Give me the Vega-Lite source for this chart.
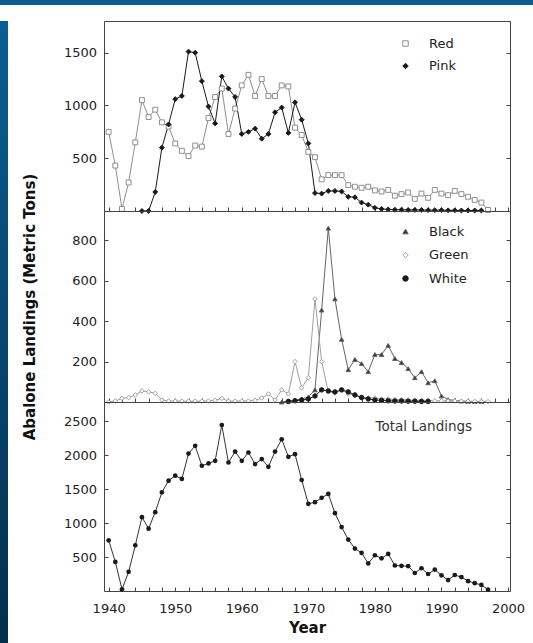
{
  "$schema": "https://vega.github.io/schema/vega-lite/v6.json",
  "padding": 0,
  "background": "white",
  "spacing": 15,
  "config": {
    "font": "DejaVu Sans",
    "view": {"stroke": "#444", "strokeWidth": 1},
    "axis": {
      "domain": false,
      "grid": false,
      "labelFont": "DejaVu Sans",
      "labelFontSize": 13,
      "labelColor": "#222",
      "labelFlush": false,
      "tickColor": "#444",
      "tickSize": -4,
      "titleFont": "DejaVu Sans",
      "titleFontSize": 15,
      "titleFontWeight": "bold",
      "titleColor": "#111"
    },
    "legend": {
      "labelFont": "DejaVu Sans",
      "labelFontSize": 13,
      "labelColor": "#222",
      "padding": 0,
      "rowPadding": 8.5,
      "labelOffset": 17,
      "symbolSize": 30,
      "symbolStrokeWidth": 1
    }
  },
  "datasets": {
    "topPanel": [
      {"year": 1940, "species": "Red", "tons": 750}, {"year": 1941, "species": "Red", "tons": 430},
      {"year": 1942, "species": "Red", "tons": 20}, {"year": 1943, "species": "Red", "tons": 270},
      {"year": 1944, "species": "Red", "tons": 650}, {"year": 1945, "species": "Red", "tons": 1050},
      {"year": 1946, "species": "Red", "tons": 890}, {"year": 1947, "species": "Red", "tons": 960},
      {"year": 1948, "species": "Red", "tons": 840}, {"year": 1949, "species": "Red", "tons": 800},
      {"year": 1950, "species": "Red", "tons": 640}, {"year": 1951, "species": "Red", "tons": 570},
      {"year": 1952, "species": "Red", "tons": 520}, {"year": 1953, "species": "Red", "tons": 620},
      {"year": 1954, "species": "Red", "tons": 610}, {"year": 1955, "species": "Red", "tons": 880},
      {"year": 1956, "species": "Red", "tons": 1080}, {"year": 1957, "species": "Red", "tons": 1160},
      {"year": 1958, "species": "Red", "tons": 730}, {"year": 1959, "species": "Red", "tons": 970},
      {"year": 1960, "species": "Red", "tons": 1190}, {"year": 1961, "species": "Red", "tons": 1290},
      {"year": 1962, "species": "Red", "tons": 1090}, {"year": 1963, "species": "Red", "tons": 1250},
      {"year": 1964, "species": "Red", "tons": 1090}, {"year": 1965, "species": "Red", "tons": 1090},
      {"year": 1966, "species": "Red", "tons": 1190}, {"year": 1967, "species": "Red", "tons": 1180},
      {"year": 1968, "species": "Red", "tons": 790}, {"year": 1969, "species": "Red", "tons": 720},
      {"year": 1970, "species": "Red", "tons": 560}, {"year": 1971, "species": "Red", "tons": 510},
      {"year": 1972, "species": "Red", "tons": 300}, {"year": 1973, "species": "Red", "tons": 340},
      {"year": 1974, "species": "Red", "tons": 340}, {"year": 1975, "species": "Red", "tons": 340},
      {"year": 1976, "species": "Red", "tons": 245}, {"year": 1977, "species": "Red", "tons": 230},
      {"year": 1978, "species": "Red", "tons": 220}, {"year": 1979, "species": "Red", "tons": 230},
      {"year": 1980, "species": "Red", "tons": 195}, {"year": 1981, "species": "Red", "tons": 185},
      {"year": 1982, "species": "Red", "tons": 200}, {"year": 1983, "species": "Red", "tons": 145},
      {"year": 1984, "species": "Red", "tons": 160}, {"year": 1985, "species": "Red", "tons": 175},
      {"year": 1986, "species": "Red", "tons": 115}, {"year": 1987, "species": "Red", "tons": 165},
      {"year": 1988, "species": "Red", "tons": 125}, {"year": 1989, "species": "Red", "tons": 200},
      {"year": 1990, "species": "Red", "tons": 165}, {"year": 1991, "species": "Red", "tons": 150},
      {"year": 1992, "species": "Red", "tons": 190}, {"year": 1993, "species": "Red", "tons": 160},
      {"year": 1994, "species": "Red", "tons": 135}, {"year": 1995, "species": "Red", "tons": 105},
      {"year": 1996, "species": "Red", "tons": 80}, {"year": 1997, "species": "Red", "tons": 10},
      {"year": 1945, "species": "Pink", "tons": 0}, {"year": 1946, "species": "Pink", "tons": 0},
      {"year": 1947, "species": "Pink", "tons": 180}, {"year": 1948, "species": "Pink", "tons": 600},
      {"year": 1949, "species": "Pink", "tons": 820}, {"year": 1950, "species": "Pink", "tons": 1060},
      {"year": 1951, "species": "Pink", "tons": 1090}, {"year": 1952, "species": "Pink", "tons": 1510},
      {"year": 1953, "species": "Pink", "tons": 1500}, {"year": 1954, "species": "Pink", "tons": 1230},
      {"year": 1955, "species": "Pink", "tons": 990}, {"year": 1956, "species": "Pink", "tons": 830},
      {"year": 1957, "species": "Pink", "tons": 1275}, {"year": 1958, "species": "Pink", "tons": 1160},
      {"year": 1959, "species": "Pink", "tons": 1080}, {"year": 1960, "species": "Pink", "tons": 730},
      {"year": 1961, "species": "Pink", "tons": 750}, {"year": 1962, "species": "Pink", "tons": 780},
      {"year": 1963, "species": "Pink", "tons": 685}, {"year": 1964, "species": "Pink", "tons": 730},
      {"year": 1965, "species": "Pink", "tons": 935}, {"year": 1966, "species": "Pink", "tons": 980},
      {"year": 1967, "species": "Pink", "tons": 740}, {"year": 1968, "species": "Pink", "tons": 1030},
      {"year": 1969, "species": "Pink", "tons": 865}, {"year": 1970, "species": "Pink", "tons": 640},
      {"year": 1971, "species": "Pink", "tons": 170}, {"year": 1972, "species": "Pink", "tons": 165},
      {"year": 1973, "species": "Pink", "tons": 190}, {"year": 1974, "species": "Pink", "tons": 190},
      {"year": 1975, "species": "Pink", "tons": 185}, {"year": 1976, "species": "Pink", "tons": 135},
      {"year": 1977, "species": "Pink", "tons": 130}, {"year": 1978, "species": "Pink", "tons": 80},
      {"year": 1979, "species": "Pink", "tons": 60}, {"year": 1980, "species": "Pink", "tons": 30},
      {"year": 1981, "species": "Pink", "tons": 20}, {"year": 1982, "species": "Pink", "tons": 15},
      {"year": 1983, "species": "Pink", "tons": 12}, {"year": 1984, "species": "Pink", "tons": 12},
      {"year": 1985, "species": "Pink", "tons": 10}, {"year": 1986, "species": "Pink", "tons": 10},
      {"year": 1987, "species": "Pink", "tons": 10}, {"year": 1988, "species": "Pink", "tons": 8},
      {"year": 1989, "species": "Pink", "tons": 8}, {"year": 1990, "species": "Pink", "tons": 8},
      {"year": 1991, "species": "Pink", "tons": 6}, {"year": 1992, "species": "Pink", "tons": 6},
      {"year": 1993, "species": "Pink", "tons": 5}, {"year": 1994, "species": "Pink", "tons": 5},
      {"year": 1995, "species": "Pink", "tons": 5}, {"year": 1996, "species": "Pink", "tons": 5}
    ],
    "middlePanel": [
      {"year": 1966, "species": "Black", "tons": 0}, {"year": 1967, "species": "Black", "tons": 5},
      {"year": 1968, "species": "Black", "tons": 10}, {"year": 1969, "species": "Black", "tons": 15},
      {"year": 1970, "species": "Black", "tons": 25}, {"year": 1971, "species": "Black", "tons": 60},
      {"year": 1972, "species": "Black", "tons": 455}, {"year": 1973, "species": "Black", "tons": 860},
      {"year": 1974, "species": "Black", "tons": 510}, {"year": 1975, "species": "Black", "tons": 310},
      {"year": 1976, "species": "Black", "tons": 160}, {"year": 1977, "species": "Black", "tons": 210},
      {"year": 1978, "species": "Black", "tons": 190}, {"year": 1979, "species": "Black", "tons": 150},
      {"year": 1980, "species": "Black", "tons": 235}, {"year": 1981, "species": "Black", "tons": 235},
      {"year": 1982, "species": "Black", "tons": 280}, {"year": 1983, "species": "Black", "tons": 215},
      {"year": 1984, "species": "Black", "tons": 195}, {"year": 1985, "species": "Black", "tons": 165},
      {"year": 1986, "species": "Black", "tons": 120}, {"year": 1987, "species": "Black", "tons": 150},
      {"year": 1988, "species": "Black", "tons": 95}, {"year": 1989, "species": "Black", "tons": 105},
      {"year": 1990, "species": "Black", "tons": 30}, {"year": 1991, "species": "Black", "tons": 12},
      {"year": 1992, "species": "Black", "tons": 8}, {"year": 1993, "species": "Black", "tons": 5},
      {"year": 1994, "species": "Black", "tons": 3}, {"year": 1995, "species": "Black", "tons": 2},
      {"year": 1996, "species": "Black", "tons": 2},
      {"year": 1940, "species": "Green", "tons": 0}, {"year": 1941, "species": "Green", "tons": 5},
      {"year": 1942, "species": "Green", "tons": 18}, {"year": 1943, "species": "Green", "tons": 22},
      {"year": 1944, "species": "Green", "tons": 35}, {"year": 1945, "species": "Green", "tons": 55},
      {"year": 1946, "species": "Green", "tons": 50}, {"year": 1947, "species": "Green", "tons": 43},
      {"year": 1948, "species": "Green", "tons": 10}, {"year": 1949, "species": "Green", "tons": 5},
      {"year": 1950, "species": "Green", "tons": 5}, {"year": 1951, "species": "Green", "tons": 4},
      {"year": 1952, "species": "Green", "tons": 4}, {"year": 1953, "species": "Green", "tons": 4},
      {"year": 1954, "species": "Green", "tons": 4}, {"year": 1955, "species": "Green", "tons": 5},
      {"year": 1956, "species": "Green", "tons": 8}, {"year": 1957, "species": "Green", "tons": 18},
      {"year": 1958, "species": "Green", "tons": 4}, {"year": 1959, "species": "Green", "tons": 4},
      {"year": 1960, "species": "Green", "tons": 5}, {"year": 1961, "species": "Green", "tons": 5},
      {"year": 1962, "species": "Green", "tons": 8}, {"year": 1963, "species": "Green", "tons": 20},
      {"year": 1964, "species": "Green", "tons": 40}, {"year": 1965, "species": "Green", "tons": 10},
      {"year": 1966, "species": "Green", "tons": 60}, {"year": 1967, "species": "Green", "tons": 40},
      {"year": 1968, "species": "Green", "tons": 200}, {"year": 1969, "species": "Green", "tons": 70},
      {"year": 1970, "species": "Green", "tons": 120}, {"year": 1971, "species": "Green", "tons": 510},
      {"year": 1972, "species": "Green", "tons": 200}, {"year": 1973, "species": "Green", "tons": 50},
      {"year": 1974, "species": "Green", "tons": 45}, {"year": 1975, "species": "Green", "tons": 60},
      {"year": 1976, "species": "Green", "tons": 40}, {"year": 1977, "species": "Green", "tons": 35},
      {"year": 1978, "species": "Green", "tons": 25}, {"year": 1979, "species": "Green", "tons": 20},
      {"year": 1980, "species": "Green", "tons": 20}, {"year": 1981, "species": "Green", "tons": 15},
      {"year": 1982, "species": "Green", "tons": 15}, {"year": 1983, "species": "Green", "tons": 12},
      {"year": 1984, "species": "Green", "tons": 12}, {"year": 1985, "species": "Green", "tons": 10},
      {"year": 1986, "species": "Green", "tons": 8}, {"year": 1987, "species": "Green", "tons": 8},
      {"year": 1988, "species": "Green", "tons": 8}, {"year": 1989, "species": "Green", "tons": 6},
      {"year": 1990, "species": "Green", "tons": 6}, {"year": 1991, "species": "Green", "tons": 5},
      {"year": 1992, "species": "Green", "tons": 5}, {"year": 1993, "species": "Green", "tons": 4},
      {"year": 1994, "species": "Green", "tons": 4}, {"year": 1995, "species": "Green", "tons": 3},
      {"year": 1996, "species": "Green", "tons": 3}, {"year": 1997, "species": "Green", "tons": 2},
      {"year": 1967, "species": "White", "tons": 3}, {"year": 1968, "species": "White", "tons": 6},
      {"year": 1969, "species": "White", "tons": 10}, {"year": 1970, "species": "White", "tons": 15},
      {"year": 1971, "species": "White", "tons": 30}, {"year": 1972, "species": "White", "tons": 60},
      {"year": 1973, "species": "White", "tons": 55}, {"year": 1974, "species": "White", "tons": 50},
      {"year": 1975, "species": "White", "tons": 60}, {"year": 1976, "species": "White", "tons": 50},
      {"year": 1977, "species": "White", "tons": 35}, {"year": 1978, "species": "White", "tons": 22},
      {"year": 1979, "species": "White", "tons": 15}, {"year": 1980, "species": "White", "tons": 10},
      {"year": 1981, "species": "White", "tons": 8}, {"year": 1982, "species": "White", "tons": 6},
      {"year": 1983, "species": "White", "tons": 5}, {"year": 1984, "species": "White", "tons": 5},
      {"year": 1985, "species": "White", "tons": 4}, {"year": 1986, "species": "White", "tons": 4},
      {"year": 1987, "species": "White", "tons": 3}, {"year": 1988, "species": "White", "tons": 3}
    ],
    "totalPanel": [
      {"year": 1940, "species": "Total Landings", "tons": 746}, {"year": 1941, "species": "Total Landings", "tons": 428},
      {"year": 1942, "species": "Total Landings", "tons": 25}, {"year": 1943, "species": "Total Landings", "tons": 282},
      {"year": 1944, "species": "Total Landings", "tons": 672}, {"year": 1945, "species": "Total Landings", "tons": 1086},
      {"year": 1946, "species": "Total Landings", "tons": 917}, {"year": 1947, "species": "Total Landings", "tons": 1160},
      {"year": 1948, "species": "Total Landings", "tons": 1452}, {"year": 1949, "species": "Total Landings", "tons": 1623},
      {"year": 1950, "species": "Total Landings", "tons": 1696}, {"year": 1951, "species": "Total Landings", "tons": 1648},
      {"year": 1952, "species": "Total Landings", "tons": 2022}, {"year": 1953, "species": "Total Landings", "tons": 2135},
      {"year": 1954, "species": "Total Landings", "tons": 1842}, {"year": 1955, "species": "Total Landings", "tons": 1876},
      {"year": 1956, "species": "Total Landings", "tons": 1915}, {"year": 1957, "species": "Total Landings", "tons": 2442},
      {"year": 1958, "species": "Total Landings", "tons": 1890}, {"year": 1959, "species": "Total Landings", "tons": 2051},
      {"year": 1960, "species": "Total Landings", "tons": 1915}, {"year": 1961, "species": "Total Landings", "tons": 2037},
      {"year": 1962, "species": "Total Landings", "tons": 1867}, {"year": 1963, "species": "Total Landings", "tons": 1940},
      {"year": 1964, "species": "Total Landings", "tons": 1827}, {"year": 1965, "species": "Total Landings", "tons": 2051},
      {"year": 1966, "species": "Total Landings", "tons": 2232}, {"year": 1967, "species": "Total Landings", "tons": 1974},
      {"year": 1968, "species": "Total Landings", "tons": 2013}, {"year": 1969, "species": "Total Landings", "tons": 1633},
      {"year": 1970, "species": "Total Landings", "tons": 1282}, {"year": 1971, "species": "Total Landings", "tons": 1306},
      {"year": 1972, "species": "Total Landings", "tons": 1370}, {"year": 1973, "species": "Total Landings", "tons": 1428},
      {"year": 1974, "species": "Total Landings", "tons": 1145}, {"year": 1975, "species": "Total Landings", "tons": 940},
      {"year": 1976, "species": "Total Landings", "tons": 756}, {"year": 1977, "species": "Total Landings", "tons": 624},
      {"year": 1978, "species": "Total Landings", "tons": 560}, {"year": 1979, "species": "Total Landings", "tons": 405},
      {"year": 1980, "species": "Total Landings", "tons": 526}, {"year": 1981, "species": "Total Landings", "tons": 480},
      {"year": 1982, "species": "Total Landings", "tons": 545}, {"year": 1983, "species": "Total Landings", "tons": 375},
      {"year": 1984, "species": "Total Landings", "tons": 370}, {"year": 1985, "species": "Total Landings", "tons": 365},
      {"year": 1986, "species": "Total Landings", "tons": 265}, {"year": 1987, "species": "Total Landings", "tons": 335},
      {"year": 1988, "species": "Total Landings", "tons": 250}, {"year": 1989, "species": "Total Landings", "tons": 315},
      {"year": 1990, "species": "Total Landings", "tons": 230}, {"year": 1991, "species": "Total Landings", "tons": 160},
      {"year": 1992, "species": "Total Landings", "tons": 235}, {"year": 1993, "species": "Total Landings", "tons": 205},
      {"year": 1994, "species": "Total Landings", "tons": 145}, {"year": 1995, "species": "Total Landings", "tons": 115},
      {"year": 1996, "species": "Total Landings", "tons": 90}, {"year": 1997, "species": "Total Landings", "tons": 20}
    ]
  },
  "vconcat": [
    {
      "width": 533,
      "height": 5,
      "view": {"stroke": null},
      "data": {"values": [{"band": "top"}]},
      "mark": {"type": "rect", "color": "#0b5d91"},
      "encoding": {}
    },
    {
      "spacing": 14,
      "hconcat": [
        {
          "width": 8,
          "height": 623,
          "view": {"stroke": null},
          "data": {"values": [{"band": "left"}]},
          "mark": {
            "type": "rect",
            "color": {
              "gradient": "linear", "x1": 0, "y1": 0, "x2": 0, "y2": 1,
              "stops": [{"offset": 0, "color": "#0a5e93"}, {"offset": 1, "color": "#022f4d"}]
            }
          },
          "encoding": {}
        },
        {
          "spacing": 0,
          "bounds": "flush",
          "resolve": {
            "scale": {"stroke": "independent", "fill": "independent", "shape": "independent", "color": "independent"},
            "legend": {"stroke": "independent", "fill": "independent", "shape": "independent", "color": "independent"}
          },
          "vconcat": [
            {
              "width": 406,
              "height": 190,
              "data": {"name": "topPanel"},
              "resolve": {"axis": {"y": "independent"}},
              "encoding": {
                "x": {
                  "field": "year", "type": "quantitative",
                  "scale": {"domain": [1939.3, 2000.3], "nice": false, "zero": false},
                  "axis": {"title": null, "labels": false,
                           "values": [1940,1942,1944,1946,1948,1950,1952,1954,1956,1958,1960,1962,1964,1966,1968,1970,1972,1974,1976,1978,1980,1982,1984,1986,1988,1990,1992,1994,1996,1998,2000]}
                }
              },
              "layer": [
                {
                  "mark": {"type": "line", "strokeWidth": 1},
                  "encoding": {
                    "y": {
                      "field": "tons", "type": "quantitative",
                      "scale": {"domain": [0, 1800], "nice": false},
                      "axis": {"title": null, "format": "d", "values": [500, 1000, 1500], "labelPadding": 11.5}
                    },
                    "stroke": {"field": "species", "type": "nominal",
                               "scale": {"domain": ["Red", "Pink"], "range": ["#8f8f8f", "#1a1a1a"]}}
                  }
                },
                {
                  "mark": {"type": "point", "size": 24, "strokeWidth": 1, "opacity": 1},
                  "encoding": {
                    "y": {
                      "field": "tons", "type": "quantitative",
                      "axis": {"orient": "right", "title": null, "labels": false, "values": [500, 1000, 1500]}
                    },
                    "shape": {"field": "species", "type": "nominal",
                              "scale": {"domain": ["Red", "Pink"], "range": ["square", "diamond"]},
                              "legend": {"title": null, "orient": "none", "legendX": 295, "legendY": 16}},
                    "fill": {"field": "species", "type": "nominal",
                             "scale": {"domain": ["Red", "Pink"], "range": ["#ffffff", "#1a1a1a"]}},
                    "stroke": {"field": "species", "type": "nominal",
                               "scale": {"domain": ["Red", "Pink"], "range": ["#8f8f8f", "#1a1a1a"]}}
                  }
                }
              ]
            },
            {
              "width": 406,
              "height": 191,
              "data": {"name": "middlePanel"},
              "resolve": {"axis": {"y": "independent"}},
              "encoding": {
                "x": {
                  "field": "year", "type": "quantitative",
                  "scale": {"domain": [1939.3, 2000.3], "nice": false, "zero": false},
                  "axis": {"title": null, "labels": false,
                           "values": [1940,1942,1944,1946,1948,1950,1952,1954,1956,1958,1960,1962,1964,1966,1968,1970,1972,1974,1976,1978,1980,1982,1984,1986,1988,1990,1992,1994,1996,1998,2000]}
                }
              },
              "layer": [
                {
                  "mark": {"type": "line", "strokeWidth": 1},
                  "encoding": {
                    "y": {
                      "field": "tons", "type": "quantitative",
                      "scale": {"domain": [0, 945], "nice": false},
                      "axis": {"title": "Abalone Landings (Metric Tons)", "format": "d", "values": [200, 400, 600, 800],
                               "labelPadding": 11.5, "titlePadding": 34}
                    },
                    "stroke": {"field": "species", "type": "nominal",
                               "scale": {"domain": ["Black", "Green", "White"], "range": ["#666666", "#a0a0a0", "#1a1a1a"]}}
                  }
                },
                {
                  "mark": {"type": "point", "size": 20, "strokeWidth": 1, "opacity": 1},
                  "encoding": {
                    "y": {
                      "field": "tons", "type": "quantitative",
                      "axis": {"orient": "right", "title": null, "labels": false, "values": [200, 400, 600, 800]}
                    },
                    "shape": {"field": "species", "type": "nominal",
                              "scale": {"domain": ["Black", "Green", "White"], "range": ["triangle-up", "diamond", "circle"]},
                              "legend": {"title": null, "orient": "none", "legendX": 295, "legendY": 14, "rowPadding": 9.5}},
                    "fill": {"field": "species", "type": "nominal",
                             "scale": {"domain": ["Black", "Green", "White"], "range": ["#333333", "#ffffff", "#1a1a1a"]}},
                    "stroke": {"field": "species", "type": "nominal",
                               "scale": {"domain": ["Black", "Green", "White"], "range": ["#333333", "#9a9a9a", "#1a1a1a"]}}
                  }
                }
              ]
            },
            {
              "width": 406,
              "height": 189,
              "data": {"name": "totalPanel"},
              "resolve": {"axis": {"y": "independent"}},
              "encoding": {
                "x": {
                  "field": "year", "type": "quantitative",
                  "scale": {"domain": [1939.3, 2000.3], "nice": false, "zero": false},
                  "axis": {"title": "Year", "format": "d", "labelPadding": 15, "titlePadding": 5,
                           "labelExpr": "datum.value % 10 === 0 ? datum.label : ''",
                           "values": [1940,1942,1944,1946,1948,1950,1952,1954,1956,1958,1960,1962,1964,1966,1968,1970,1972,1974,1976,1978,1980,1982,1984,1986,1988,1990,1992,1994,1996,1998,2000]}
                }
              },
              "layer": [
                {
                  "mark": {"type": "line", "strokeWidth": 1, "color": "#333333"},
                  "encoding": {
                    "y": {
                      "field": "tons", "type": "quantitative",
                      "scale": {"domain": [0, 2780], "nice": false},
                      "axis": {"title": null, "format": "d", "values": [500, 1000, 1500, 2000, 2500], "labelPadding": 11.5}
                    }
                  }
                },
                {
                  "mark": {"type": "point", "size": 22, "filled": true, "opacity": 1},
                  "encoding": {
                    "y": {
                      "field": "tons", "type": "quantitative",
                      "axis": {"orient": "right", "title": null, "labels": false, "values": [500, 1000, 1500, 2000, 2500]}
                    },
                    "color": {"field": "species", "type": "nominal",
                              "scale": {"range": ["#1a1a1a"]},
                              "legend": {"title": null, "orient": "none", "legendX": 258, "legendY": 18,
                                         "symbolSize": 0, "symbolOpacity": 0, "labelOffset": 0,
                                         "labelFontSize": 13.5, "labelColor": "#333"}}
                  }
                }
              ]
            }
          ]
        }
      ]
    }
  ]
}
